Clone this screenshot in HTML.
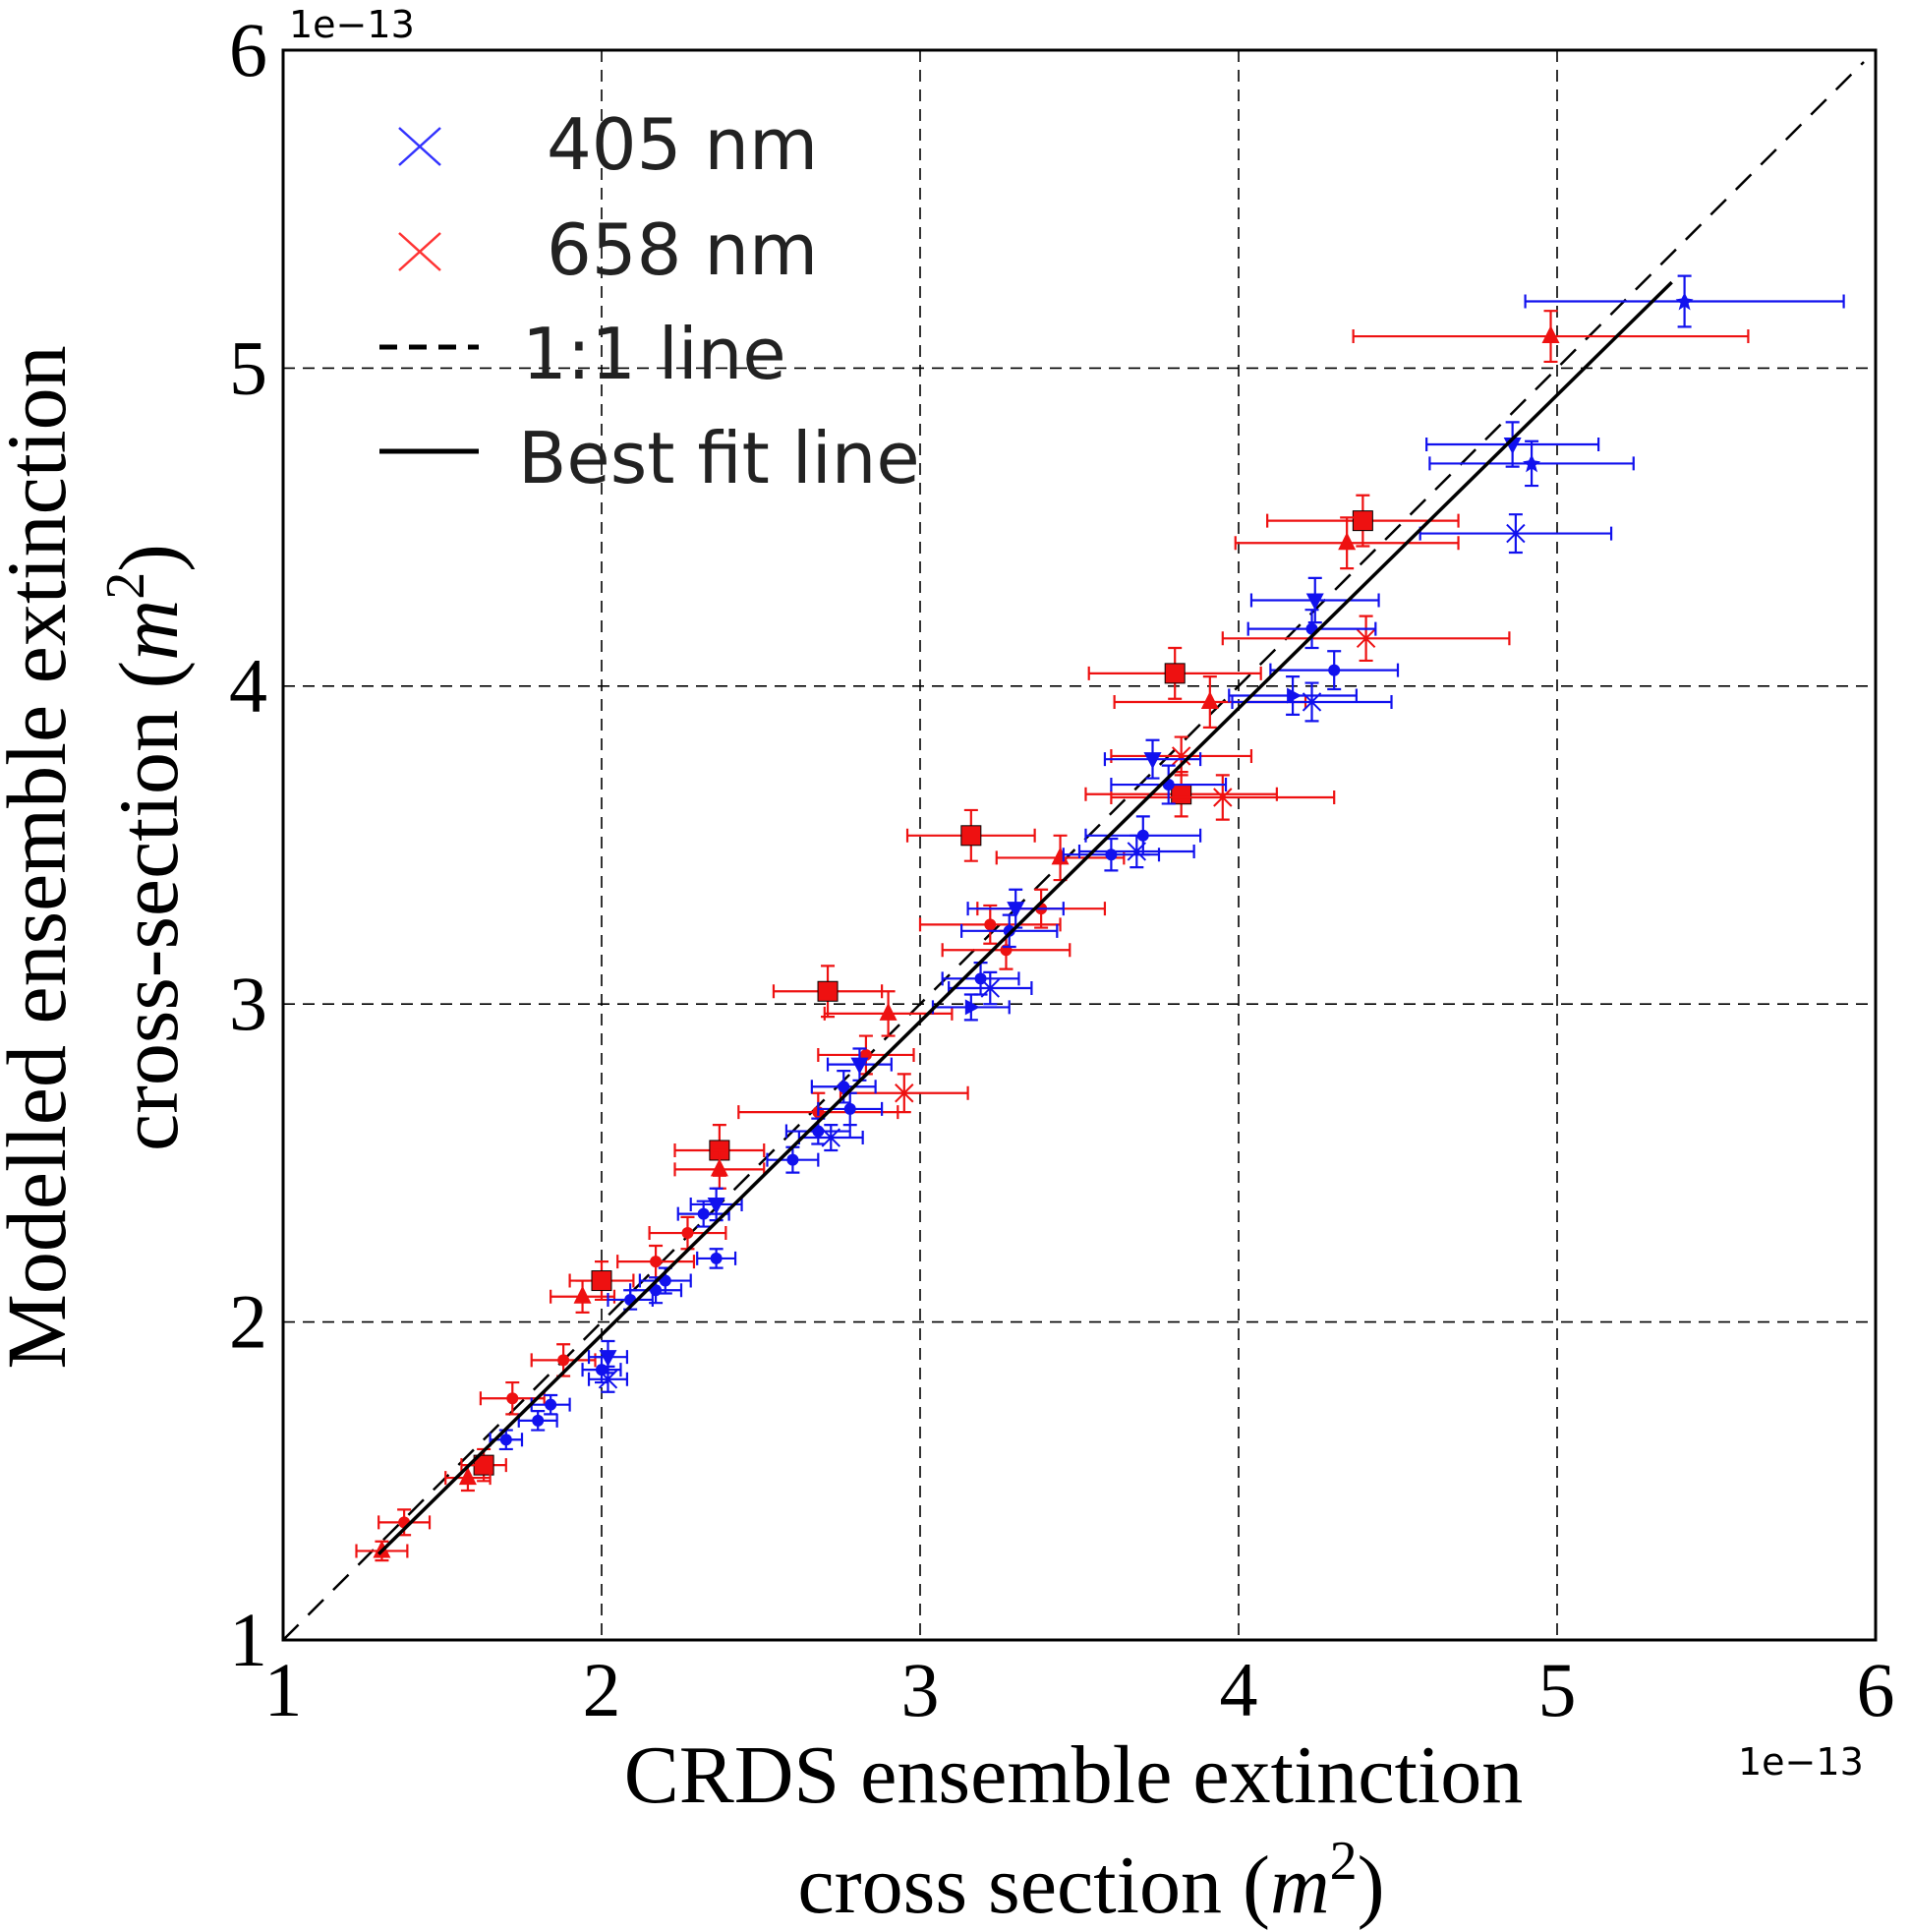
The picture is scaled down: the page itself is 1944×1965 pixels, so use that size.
<!DOCTYPE html>
<html><head><meta charset="utf-8"><style>
html,body{margin:0;padding:0;background:#fff}
svg{display:block}
.serif{font-family:"Liberation Serif",serif}
.sans{font-family:"DejaVu Sans","Liberation Sans",sans-serif}
</style></head><body>
<svg id="chart" width="1944" height="1965" viewBox="0 0 1944 1965" xmlns="http://www.w3.org/2000/svg">
<g id="grid"></g>
<g id="lines"></g>
<g id="marks"></g>
<rect x="288" y="51" width="1620" height="1617" fill="none" stroke="#000" stroke-width="3"/>
<g id="ticks"></g>
<text class="sans" x="294" y="38" font-size="38">1e−13</text>
<text class="sans" x="1768" y="1805" font-size="38">1e−13</text>
<text class="serif" font-size="86" text-anchor="middle" transform="translate(66,872) rotate(-90)">Modelled ensemble extinction</text>
<text class="serif" font-size="86" text-anchor="middle" transform="translate(180,862) rotate(-90)">cross-section (<tspan font-style="italic">m</tspan><tspan font-size="56" dy="-34">2</tspan><tspan dy="34">)</tspan></text>
<text class="serif" font-size="84" text-anchor="middle" x="1092" y="1833">CRDS ensemble extinction</text>
<text class="serif" font-size="84" text-anchor="middle" x="1110" y="1945">cross section (<tspan font-style="italic">m</tspan><tspan font-size="56" dy="-34">2</tspan><tspan dy="34">)</tspan></text>
<g id="legend">
 <g><path d="M406,130 L448,168 M406,168 L448,130" stroke="#3333ff" stroke-width="2.5"/><text class="sans" x="556" y="172" font-size="72" fill="#222">405 nm</text></g>
 <g><path d="M406,237 L448,275 M406,275 L448,237" stroke="#ff3333" stroke-width="2.5"/><text class="sans" x="556" y="279" font-size="72" fill="#222">658 nm</text></g>
 <g><line x1="386" y1="353" x2="487" y2="353" stroke="#000" stroke-width="5" stroke-dasharray="18,12"/><text class="sans" x="531" y="385" font-size="72" fill="#222">1:1 line</text></g>
 <g><line x1="386" y1="459" x2="487" y2="459" stroke="#000" stroke-width="5"/><text class="sans" x="527" y="491" font-size="72" fill="#222">Best fit line</text></g>
</g>
</svg>
<script>
const xTicks=[1,2,3,4,5,6];
const yTicks=[1,2,3,4,5,6];
const fitLine=[[1.30,1.27],[5.36,5.27]];
const oneToOne=[[1,1],[6,6]];
// red (658 nm) series
const redX=[4.98,4.39,4.34,4.40,3.80,3.91,3.82,3.95,3.16,3.44,2.71,2.90,2.95,2.83,2.68,2.37,2.37,2.27,2.17,1.94,2.00,1.88,1.72,1.63,1.58,1.38,1.31,3.27,3.22,3.38,3.82];
const redY=[5.10,4.52,4.45,4.15,4.04,3.95,3.66,3.65,3.53,3.46,3.04,2.97,2.72,2.84,2.66,2.54,2.48,2.28,2.19,2.08,2.13,1.88,1.76,1.55,1.51,1.37,1.28,3.17,3.25,3.30,3.78];
const redXErr=[0.62,0.30,0.35,0.45,0.27,0.30,0.30,0.35,0.20,0.20,0.17,0.20,0.20,0.15,0.25,0.14,0.14,0.12,0.12,0.10,0.10,0.10,0.10,0.07,0.07,0.08,0.08,0.20,0.22,0.20,0.22];
const redYErr=[0.08,0.08,0.08,0.07,0.08,0.08,0.07,0.07,0.08,0.07,0.08,0.07,0.06,0.06,0.06,0.08,0.06,0.05,0.05,0.05,0.06,0.05,0.05,0.05,0.04,0.04,0.03,0.06,0.06,0.06,0.06];
const redShape=['tri','sq','tri','x','sq','tri','sq','x','sq','tri','sq','tri','x','dot','dot','sq','tri','dot','dot','tri','sq','dot','dot','sq','tri','dot','tri','dot','dot','dot','x'];
// blue (405 nm) series
const blueX=[5.40,4.86,4.92,4.87,4.24,4.23,4.30,4.17,4.23,3.73,3.78,3.70,3.60,3.68,3.30,3.28,3.19,3.22,3.16,2.81,2.76,2.78,2.68,2.72,2.60,2.36,2.32,2.36,2.20,2.17,2.09,2.02,2.00,2.02,1.84,1.80,1.70];
const blueY=[5.21,4.76,4.70,4.48,4.27,4.18,4.05,3.97,3.95,3.77,3.69,3.53,3.47,3.48,3.30,3.23,3.08,3.05,2.99,2.81,2.74,2.67,2.60,2.58,2.51,2.37,2.34,2.20,2.13,2.10,2.07,1.89,1.85,1.82,1.74,1.69,1.63];
const blueXErr=[0.50,0.27,0.32,0.30,0.20,0.20,0.20,0.20,0.25,0.15,0.18,0.18,0.15,0.18,0.15,0.15,0.12,0.13,0.12,0.10,0.10,0.10,0.10,0.10,0.08,0.08,0.08,0.06,0.08,0.08,0.07,0.06,0.06,0.06,0.06,0.06,0.05];
const blueYErr=[0.08,0.07,0.07,0.06,0.07,0.06,0.06,0.06,0.06,0.06,0.06,0.06,0.05,0.05,0.06,0.05,0.05,0.05,0.04,0.05,0.05,0.05,0.04,0.04,0.04,0.05,0.04,0.03,0.04,0.04,0.03,0.05,0.04,0.04,0.03,0.03,0.03];
const blueShape=['star','tdown','star','x','tdown','dot','dot','tright','x','tdown','dot','dot','dot','x','tdown','dot','dot','x','tright','tdown','dot','dot','dot','x','dot','tdown','dot','dot','dot','dot','dot','tdown','dot','x','dot','dot','dot'];

const NS='http://www.w3.org/2000/svg';
const X0=288,X1=1908,Y0=1668,Y1=51;
function sx(v){return X0+(v-1)/5*(X1-X0);}
function sy(v){return Y0-(v-1)/5*(Y0-Y1);}
function mk(tag,attrs,parent){const e=document.createElementNS(NS,tag);for(const k in attrs)e.setAttribute(k,attrs[k]);parent.appendChild(e);return e;}
const grid=document.getElementById('grid'),lines=document.getElementById('lines'),marks=document.getElementById('marks'),ticks=document.getElementById('ticks');
xTicks.forEach(t=>{
  if(t>1&&t<6){const g=mk('line',{x1:sx(t),x2:sx(t),y1:Y1,y2:Y0,stroke:'#000','stroke-width':1.6,'stroke-dasharray':'12,8'},grid);
  
  }
  const tx=mk('text',{x:sx(t),y:1745,'font-size':78,'text-anchor':'middle',class:'serif'},ticks);tx.textContent=t;
  
  
});
yTicks.forEach(t=>{
  if(t>1&&t<6){const g=mk('line',{x1:X0,x2:X1,y1:sy(t),y2:sy(t),stroke:'#000','stroke-width':1.6,'stroke-dasharray':'12,8'},grid);
  
  }
  const ty=mk('text',{x:272,y:sy(t)+26,'font-size':78,'text-anchor':'end',class:'serif'},ticks);ty.textContent=t;
  
  
});
const l1=mk('line',{x1:sx(oneToOne[0][0]),y1:sy(oneToOne[0][1]),x2:sx(oneToOne[1][0])-12,y2:sy(oneToOne[1][1])+12,stroke:'#000','stroke-width':2.5,'stroke-dasharray':'22,14'},lines);


function drawSeries(xs,ys,xe,ye,shapes,color,name){
  xs.forEach((x,i)=>{
    const g=mk('g',{},marks);
    
    
    const cx=sx(x),cy=sy(ys[i]),xl=sx(x-xe[i]),xr=sx(x+xe[i]),yt=sy(ys[i]+ye[i]),yb=sy(ys[i]-ye[i]);
    const st={stroke:color,'stroke-width':2.2,fill:'none'};
    mk('path',Object.assign({d:`M${xl},${cy}H${xr}M${xl},${cy-7}V${cy+7}M${xr},${cy-7}V${cy+7}M${cx},${yt}V${yb}M${cx-7},${yt}H${cx+7}M${cx-7},${yb}H${cx+7}`},st),g);
    const s=shapes[i],f=color;
    if(s==='sq')mk('rect',{x:cx-10,y:cy-10,width:20,height:20,fill:f,stroke:'#000','stroke-width':1},g);
    else if(s==='tri')mk('path',{d:`M${cx},${cy-11}L${cx+9},${cy+7}L${cx-9},${cy+7}Z`,fill:f},g);
    else if(s==='tdown')mk('path',{d:`M${cx},${cy+10}L${cx+9},${cy-7}L${cx-9},${cy-7}Z`,fill:f},g);
    else if(s==='tright')mk('path',{d:`M${cx+9},${cy}L${cx-6},${cy-8}L${cx-6},${cy+8}Z`,fill:f},g);
    else if(s==='x')mk('path',{d:`M${cx-9},${cy-9}L${cx+9},${cy+9}M${cx-9},${cy+9}L${cx+9},${cy-9}`,stroke:f,'stroke-width':2},g);
    else if(s==='star')mk('path',{d:`M${cx},${cy-9}L${cx+3},${cy-3}L${cx+9},${cy-2}L${cx+4},${cy+2}L${cx+6},${cy+9}L${cx},${cy+5}L${cx-6},${cy+9}L${cx-4},${cy+2}L${cx-9},${cy-2}L${cx-3},${cy-3}Z`,fill:f},g);
    else mk('circle',{cx:cx,cy:cy,r:6,fill:f},g);
  });
}
drawSeries(redX,redY,redXErr,redYErr,redShape,'#ee1111','red-658nm');
drawSeries(blueX,blueY,blueXErr,blueYErr,blueShape,'#1111ee','blue-405nm');
const fl=mk('line',{x1:sx(fitLine[0][0]),y1:sy(fitLine[0][1]),x2:sx(fitLine[1][0]),y2:sy(fitLine[1][1]),stroke:'#000','stroke-width':3.5},lines.parentNode);


</script>
</body></html>
